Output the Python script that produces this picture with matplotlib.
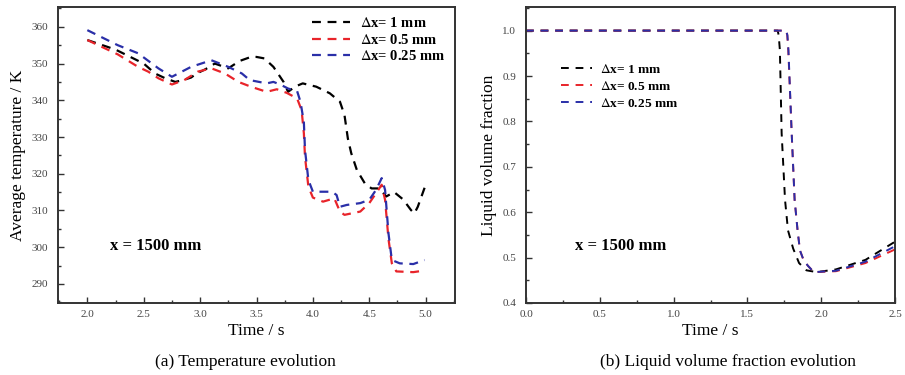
import matplotlib
matplotlib.use("Agg")
from matplotlib import pyplot as plt
from matplotlib.ticker import MultipleLocator

plt.rcParams["font.family"] = ["Liberation Serif", "DejaVu Serif"]
plt.rcParams["mathtext.fontset"] = "stix"

# (a) average temperature, x = 1500 mm
t_1mm = [2.0, 2.25, 2.5, 2.6, 2.69, 2.78, 2.86, 2.92, 2.97, 3.05, 3.13, 3.25, 3.35, 3.45,
         3.5, 3.57, 3.65, 3.74, 3.78, 3.84, 3.91, 4.03, 4.15, 4.24, 4.28, 4.31, 4.34,
         4.39, 4.46, 4.52, 4.59, 4.65, 4.72, 4.80, 4.87, 4.90, 4.93, 5.0]
T_1mm = [356.4, 353.8, 350.0, 347.3, 346.0, 345.0, 345.6, 346.2, 347.3, 348.5, 350.0,
         348.7, 350.7, 351.8, 351.8, 351.4, 349.1, 345.0, 342.3, 343.7, 344.6, 343.7,
         341.9, 339.6, 336.0, 329.6, 325.6, 321.0, 317.4, 316.0, 316.0, 313.8, 315.0,
         313.0, 310.1, 309.2, 311.0, 317.0]

t_05mm = [2.0, 2.27, 2.45, 2.54, 2.63, 2.75, 2.86, 2.98, 3.10, 3.22, 3.34, 3.45, 3.59,
          3.68, 3.77, 3.86, 3.90, 3.92, 3.93, 3.96, 4.0, 4.09, 4.19, 4.24, 4.28, 4.42,
          4.50, 4.58, 4.61, 4.64, 4.67, 4.70, 4.74, 4.89, 4.98]
T_05mm = [356.4, 352.5, 349.1, 347.8, 346.0, 344.3, 345.5, 347.8, 348.7, 347.3, 345.0,
          343.7, 342.3, 343.0, 342.0, 340.5, 337.3, 331.0, 324.6, 316.5, 313.5, 312.4,
          313.3, 309.7, 308.8, 309.7, 312.0, 315.6, 317.0, 312.9, 302.3, 295.6, 293.4,
          293.2, 293.6]

t_025mm = [2.0, 2.27, 2.45, 2.63, 2.75, 2.92, 3.10, 3.25, 3.37, 3.44, 3.59, 3.65, 3.71,
           3.78, 3.86, 3.89, 3.92, 3.93, 3.96, 4.0, 4.08, 4.17, 4.21, 4.24, 4.30, 4.42,
           4.50, 4.56, 4.61, 4.64, 4.67, 4.70, 4.77, 4.89, 4.99]
T_025mm = [359.1, 355.0, 352.8, 348.7, 346.4, 349.1, 350.9, 349.1, 347.3, 345.5, 344.6,
           345.0, 344.3, 343.2, 342.5, 339.6, 334.0, 326.5, 318.3, 315.1, 315.1, 315.1,
           314.2, 311.0, 311.5, 312.0, 312.9, 315.6, 318.8, 315.6, 303.8, 296.5, 295.6,
           295.4, 296.5]

# (b) liquid volume fraction, x = 1500 mm
tf_1mm = [0.0, 1.705, 1.712, 1.72, 1.732, 1.755, 1.775, 1.81, 1.85, 1.90, 1.97, 2.10,
          2.30, 2.50]
f_1mm = [1.0, 1.0, 0.99, 0.957, 0.774, 0.627, 0.56, 0.52, 0.488, 0.472, 0.468, 0.474,
         0.495, 0.535]
tf_05mm = [0.0, 1.762, 1.77, 1.777, 1.80, 1.82, 1.84, 1.856, 1.88, 1.91, 1.95, 2.10,
           2.30, 2.50]
f_05mm = [1.0, 1.0, 0.99, 0.957, 0.774, 0.627, 0.56, 0.516, 0.495, 0.482, 0.468, 0.470,
          0.488, 0.518]
tf_025mm = [0.0, 1.763, 1.771, 1.778, 1.80, 1.82, 1.84, 1.856, 1.88, 1.91, 1.95, 2.10,
            2.30, 2.50]
f_025mm = [1.0, 1.0, 0.99, 0.957, 0.774, 0.627, 0.56, 0.516, 0.495, 0.482, 0.468, 0.471,
           0.491, 0.525]

labels = [r"$\Delta$x= 1 mm", r"$\Delta$x= 0.5 mm", r"$\Delta$x= 0.25 mm"]
colors = ["black", "#e8242a", "#2a2fa8"]
dash = (0, (4, 3))
spine_c = "#333333"

fig = plt.figure(figsize=(9.05, 3.75), dpi=100)
ax1 = fig.add_axes([58 / 905, 1 - 303 / 375, 397 / 905, 296 / 375])
ax2 = fig.add_axes([526 / 905, 1 - 303 / 375, 369 / 905, 296 / 375])


def style_axes(ax):
    for s in ax.spines.values():
        s.set_linewidth(1.4)
        s.set_color(spine_c)
    ax.tick_params(which="both", direction="in", colors=spine_c, labelcolor="#444444",
                   labelsize=8, width=1.0)
    ax.tick_params(which="major", length=4)
    ax.tick_params(which="minor", length=2.5)
    ax.tick_params(axis="y", pad=7)
    ax.tick_params(axis="x", pad=5)


for t, v, c, lab in zip([t_1mm, t_05mm, t_025mm], [T_1mm, T_05mm, T_025mm], colors, labels):
    ax1.plot(t, v, color=c, lw=1.6, linestyle=dash, label=lab)
ax1.set_xlim(1.74, 5.26)
ax1.set_ylim(284.8, 365.4)
ax1.xaxis.set_major_locator(MultipleLocator(0.5))
ax1.xaxis.set_minor_locator(MultipleLocator(0.25))
ax1.yaxis.set_major_locator(MultipleLocator(10))
ax1.yaxis.set_minor_locator(MultipleLocator(5))
style_axes(ax1)
ax1.set_xlabel("Time / s", fontsize=12.5, labelpad=3)
ax1.set_ylabel("Average temperature / K", fontsize=12.5, labelpad=4)
ax1.text(0.131, 0.193, "x = 1500 mm", transform=ax1.transAxes, fontsize=12,
         fontweight="bold", ha="left", va="center")
ax1.legend(loc="upper right", frameon=False, handlelength=2.6, borderaxespad=0.25,
           labelspacing=0.15, handletextpad=0.7,
           prop={"size": 10.5, "weight": "bold"})

for t, v, c, lab in zip([tf_1mm, tf_05mm, tf_025mm], [f_1mm, f_05mm, f_025mm], colors, labels):
    ax2.plot(t, v, color=c, lw=1.4, linestyle=(0, (4, 3.5)), label=lab)
ax2.set_xlim(0.0, 2.5)
ax2.set_ylim(0.4, 1.052)
ax2.xaxis.set_major_locator(MultipleLocator(0.5))
ax2.xaxis.set_minor_locator(MultipleLocator(0.25))
ax2.yaxis.set_major_locator(MultipleLocator(0.1))
ax2.yaxis.set_minor_locator(MultipleLocator(0.05))
style_axes(ax2)
ax2.set_xlabel("Time / s", fontsize=12.5, labelpad=3)
ax2.set_ylabel("Liquid volume fraction", fontsize=12.5, labelpad=4)
ax2.text(0.133, 0.193, "x = 1500 mm", transform=ax2.transAxes, fontsize=12,
         fontweight="bold", ha="left", va="center")
ax2.legend(loc="upper left", bbox_to_anchor=(0.08, 0.83), frameon=False, handlelength=2.3,
           borderaxespad=0.0, labelspacing=0.3, handletextpad=0.6,
           prop={"size": 9.6, "weight": "bold"})

fig.text(245 / 905, 1 - 362 / 375, "(a) Temperature evolution", fontsize=12.5,
         ha="center", va="center")
fig.text(728 / 905, 1 - 362 / 375, "(b) Liquid volume fraction evolution", fontsize=12.5,
         ha="center", va="center")

fig.savefig("out.png", dpi=100)
